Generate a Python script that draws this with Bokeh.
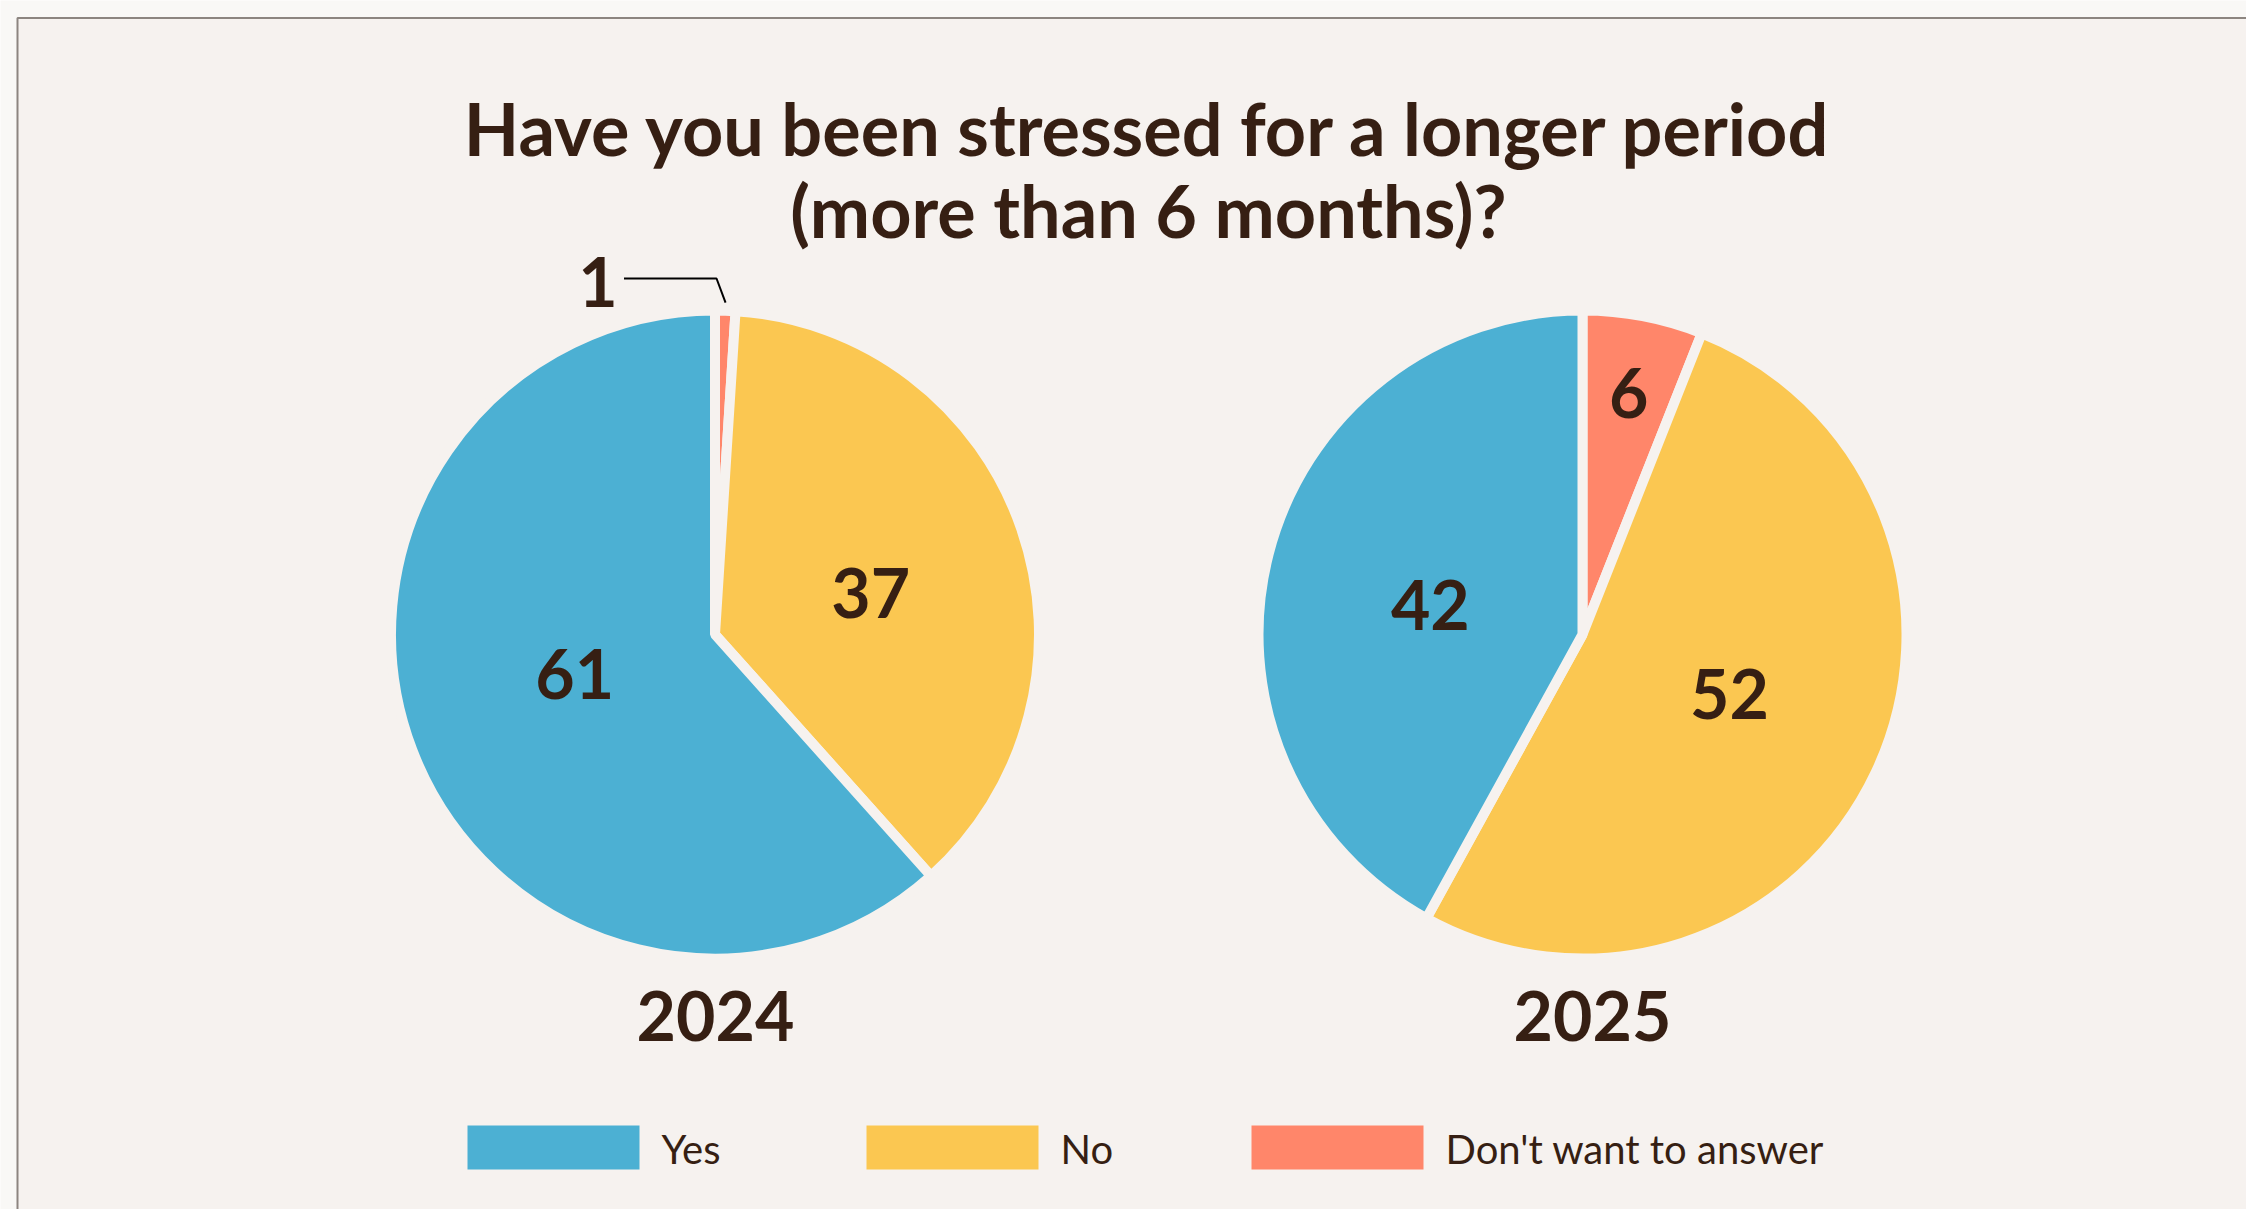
import numpy as np
from bokeh.plotting import figure
from bokeh.models import Range1d
from bokeh.core.properties import value
from bokeh.embed import file_html
from bokeh.resources import INLINE

# ---------------- data ----------------
categories = ["Yes", "No", "Don't want to answer"]
years = ["2024", "2025"]
values_2024 = [61, 37, 1]
values_2025 = [42, 52, 6]
title_lines = ["Have you been stressed for a longer period", "(more than 6 months)?"]

# ---------------- style ----------------
colors = {"Yes": "#4cb0d3", "No": "#fbc751", "Don't want to answer": "#ff866a"}
TXT = "#361f13"
BG_IN = "#f6f2ef"
BG_OUT = "#f9f8f6"
FONT = "Lato"

W, H = 2246, 1209
PAGE_H = 1217


def Y(ypage):
    return PAGE_H - ypage


p = figure(width=W, height=H, output_backend="svg", toolbar_location=None,
           x_range=Range1d(0, W), y_range=Range1d(PAGE_H - H, PAGE_H),
           min_border=0)
p.axis.visible = False
p.grid.visible = False
p.outline_line_color = None
p.background_fill_color = BG_OUT
p.border_fill_color = BG_OUT

# frame
p.quad(left=[17], right=[2400], top=[Y(17.5)], bottom=[-200],
       fill_color=BG_IN, line_color="#8c8580", line_width=2)

# title
for i, line in enumerate(title_lines):
    p.text(x=[1148], y=[Y(127 + 82 * i)], text=[line], text_align="center",
           text_baseline="middle", text_font=value(FONT), text_font_style="bold",
           text_font_size="72px", text_color=TXT)

# pies
centers = [(714.5, 634), (1582, 634)]
radius = 324
order = [2, 1, 0]  # clockwise from top: don't want, no, yes
# label placement: (radius fraction, angular nudge in degrees) per slice
label_place = {
    "2024": {0: (0.45, 5.0), 1: (0.497, 4.3)},
    "2025": {0: (0.478, -3.6), 1: (0.489, -3.3), 2: (0.76, 0.0)},
}
year_x = [715, 1592]

for (cx, cy), yr, vals, yx in zip(centers, years, [values_2024, values_2025], year_x):
    tot = float(sum(vals))
    clock = 0.0
    for idx in order:
        v = vals[idx]
        a0 = clock
        a1 = clock + v / tot * 360.0
        clock = a1
        start = np.deg2rad(90 - a1)
        end = np.deg2rad(90 - a0)
        p.wedge(x=[cx], y=[Y(cy)], radius=radius, start_angle=[start], end_angle=[end],
                fill_color=colors[categories[idx]], line_color=BG_IN, line_width=10)
        mid = np.deg2rad((a0 + a1) / 2)
        if v / tot < 0.03:
            # outside label with leader
            lx, ly = cx - 117, cy - 353
            p.text(x=[lx], y=[Y(ly)], text=[str(v)], text_align="center",
                   text_baseline="middle", text_font=value(FONT), text_font_style="bold",
                   text_font_size="68px", text_color=TXT)
            tipx = cx + np.sin(mid) * (radius + 8)
            tipy = cy - np.cos(mid) * (radius + 8)
            p.line(x=[cx - 91, tipx - 9, tipx], y=[Y(cy - 356), Y(cy - 356), Y(tipy)],
                   line_color="black", line_width=2)
        else:
            frac, nudge = label_place[yr][idx]
            ang = mid + np.deg2rad(nudge)
            r = radius * frac
            lx = cx + np.sin(ang) * r
            ly = cy - np.cos(ang) * r
            p.text(x=[lx], y=[Y(ly)], text=[str(v)], text_align="center",
                   text_baseline="middle", text_font=value(FONT), text_font_style="bold",
                   text_font_size="68px", text_color=TXT)
    p.text(x=[yx], y=[Y(1015)], text=[yr], text_align="center", text_baseline="middle",
           text_font=value(FONT), text_font_style="bold", text_font_size="68px",
           text_color=TXT)

# legend
box_left = [467, 866, 1251]
for cat, bx in zip(categories, box_left):
    p.quad(left=[bx], right=[bx + 172], top=[Y(1125)], bottom=[Y(1169)],
           fill_color=colors[cat], line_color=None)
    p.text(x=[bx + 194], y=[Y(1148)], text=[cat], text_align="left",
           text_baseline="middle", text_font=value(FONT), text_font_size="40px",
           text_color=TXT)

open("out.html", "w").write(file_html(p, INLINE))
